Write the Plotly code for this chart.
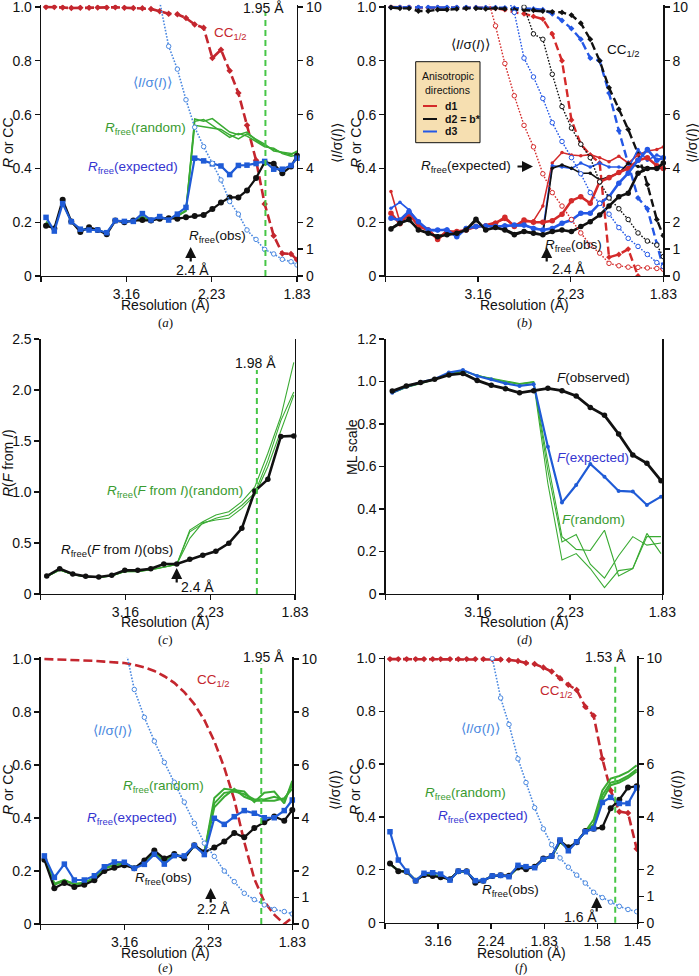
import plotly.graph_objects as go

W, H = 699, 976
FONT = "Liberation Sans, Arial, sans-serif"
SERIF = "Liberation Serif, Times New Roman, serif"

RED = "#c4262e"
LBLUE = "#4a88e0"
BLUE = "#1f5bd6"
BLUE_TXT = "#3535d0"
GREEN = "#3aab33"
GREEN_TXT = "#3a9b30"
VGREEN = "#46c646"
BLACK = "#111111"
BRED = "#d42a2a"
BBLUE = "#2458e6"

# ---------------- data ----------------
# x positions are 1/d^2 (A^-2); tick labels give resolution in A
tick_s2_abcde = [0, 0.1, 0.2, 0.3]
tick_lab_abcd = ["", "3.16", "2.23", "1.83"]
tick_s2_f = [0, 0.1, 0.2, 0.3, 0.4, 0.4756]
tick_lab_f = ["", "3.16", "2.24", "1.83", "1.58", "1.45"]

s2_ab = [0.0059, 0.0156, 0.0254, 0.0355, 0.0461, 0.0563, 0.0664, 0.0770, 0.0871, 0.0977,
         0.1082, 0.1188, 0.1289, 0.1391, 0.1496, 0.1598, 0.1699, 0.1801, 0.1906, 0.2008,
         0.2109, 0.2211, 0.2313, 0.2414, 0.2520, 0.2621, 0.2727, 0.2828, 0.2930, 0.3000]

# panel (a)
a_obs = [0.187, 0.177, 0.283, 0.203, 0.164, 0.181, 0.171, 0.155, 0.206, 0.200, 0.206, 0.208, 0.206, 0.213, 0.215,
         0.213, 0.218, 0.223, 0.227, 0.249, 0.273, 0.292, 0.292, 0.318, 0.364, 0.423, 0.417, 0.382, 0.407, 0.447]
a_exp = [0.218, 0.167, 0.269, 0.202, 0.174, 0.171, 0.171, 0.161, 0.206, 0.203, 0.203, 0.232, 0.208, 0.221, 0.208,
         0.230, 0.255, 0.438, 0.428, 0.417, 0.409, 0.377, 0.411, 0.412, 0.418, 0.426, 0.397, 0.397, 0.411, 0.438]
a_rand1 = [0.200, 0.176, 0.276, 0.201, 0.170, 0.176, 0.171, 0.158, 0.206, 0.202, 0.205, 0.221, 0.207, 0.218, 0.211,
           0.222, 0.243, 0.584, 0.575, 0.585, 0.560, 0.535, 0.525, 0.535, 0.505, 0.485, 0.470, 0.458, 0.450, 0.465]
a_rand2 = [0.198, 0.174, 0.274, 0.203, 0.172, 0.175, 0.172, 0.160, 0.205, 0.203, 0.204, 0.219, 0.208, 0.216, 0.212,
           0.224, 0.245, 0.575, 0.582, 0.560, 0.540, 0.515, 0.530, 0.520, 0.500, 0.480, 0.475, 0.455, 0.445, 0.450]
a_rand3 = [0.202, 0.175, 0.272, 0.200, 0.171, 0.177, 0.170, 0.159, 0.207, 0.201, 0.206, 0.220, 0.206, 0.217, 0.213,
           0.223, 0.241, 0.560, 0.555, 0.550, 0.545, 0.525, 0.510, 0.528, 0.508, 0.490, 0.465, 0.460, 0.455, 0.460]
a_cc = [1.0, 1.0, 0.998, 0.996, 0.997, 0.997, 0.998, 0.998, 0.999, 0.997, 0.996, 0.995, 0.993, 0.984, 0.975,
        0.973, 0.959, 0.935, 0.923, 0.810, 0.841, 0.763, 0.680, 0.560, 0.430, 0.268, 0.150, 0.084, 0.082, 0.060]
a_isig = [None] * 13 + [10.2, 8.54, 7.69, 6.55, 5.53, 4.81, 4.19, 3.57, 2.77, 2.30, 1.71, 1.36, 0.99, 0.82,
                        0.62, 0.53, 0.41]

# panel (b): d1 red, d2 black (= b*), d3 blue
b_d1_obs = [0.233, 0.194, 0.233, 0.184, 0.171, 0.136, 0.165, 0.165, 0.171, 0.184, 0.186, 0.196, 0.218, 0.184, 0.208,
            0.200, 0.200, 0.205, 0.230, 0.280, 0.295, 0.270, 0.350, 0.365, 0.385, 0.400, 0.430, 0.440, 0.410, 0.400]
b_d1_exp = [0.314, 0.200, 0.225, 0.190, 0.175, 0.140, 0.170, 0.160, 0.175, 0.180, 0.190, 0.200, 0.210, 0.190, 0.200,
            0.205, 0.260, 0.420, 0.459, 0.450, 0.447, 0.451, 0.440, 0.425, 0.445, 0.420, 0.450, 0.465, 0.470, 0.480]
b_d2_obs = [0.175, 0.196, 0.211, 0.171, 0.159, 0.146, 0.153, 0.159, 0.171, 0.211, 0.171, 0.180, 0.171, 0.153, 0.165,
            0.159, 0.153, 0.165, 0.171, 0.165, 0.184, 0.202, 0.227, 0.260, 0.295, 0.308, 0.382, 0.400, 0.400, 0.420]
b_d2_exp = [0.178, 0.200, 0.205, 0.175, 0.160, 0.150, 0.155, 0.160, 0.170, 0.205, 0.175, 0.178, 0.175, 0.158, 0.168,
            0.160, 0.155, 0.401, 0.413, 0.401, 0.382, 0.382, 0.357, 0.370, 0.382, 0.419, 0.407, 0.401, 0.400, 0.400]
b_d3_obs = [0.215, 0.208, 0.240, 0.202, 0.171, 0.171, 0.171, 0.146, 0.177, 0.184, 0.186, 0.184, 0.186, 0.190, 0.190,
            0.177, 0.171, 0.177, 0.196, 0.208, 0.233, 0.233, 0.270, 0.295, 0.345, 0.382, 0.430, 0.470, 0.430, 0.440]
b_d3_exp = [0.252, 0.274, 0.246, 0.200, 0.168, 0.168, 0.175, 0.150, 0.180, 0.180, 0.190, 0.180, 0.190, 0.186, 0.186,
            0.180, 0.170, 0.410, 0.405, 0.400, 0.420, 0.405, 0.420, 0.405, 0.405, 0.400, 0.470, 0.430, 0.450, 0.440]
b_d1_cc = [1.0, 1.0, 1.0, 0.998, 0.997, 0.998, 0.997, 0.998, 0.997, 0.998, 0.997, 0.995, 0.990, 0.980, 0.975,
           0.965, 0.955, 0.900, 0.800, 0.580, 0.490, 0.450, 0.420, 0.070, 0.080, 0.100, 0.000, None, None, None]
b_d2_cc = [0.998, 0.995, 0.995, 0.985, 0.985, 0.990, 0.990, 0.993, 0.995, 0.995, 0.993, 0.995, 0.993, 0.990, 0.990,
           0.988, 0.985, 0.982, 0.980, 0.970, 0.940, 0.880, 0.800, 0.700, 0.620, 0.545, 0.455, 0.340, 0.210, 0.150]
b_d3_cc = [0.999, 0.999, 0.999, 0.999, 0.999, 0.999, 0.999, 0.999, 0.999, 0.998, 0.998, 0.998, 0.997, 0.996, 0.995,
           0.993, 0.990, 0.975, 0.950, 0.920, 0.880, 0.810, 0.800, 0.680, 0.540, 0.420, 0.290, 0.250, 0.120, 0.030]
b_d1_isig = [None] * 10 + [10.6, 9.3, 7.9, 6.7, 5.6, 4.8, 3.8, 3.1, 2.6, 2.1, 1.6, 1.15, 0.85, 0.47, 0.38, 0.33,
                           0.32, 0.30, 0.28, 0.25]
b_d2_isig = [None] * 14 + [10.0, 9.0, 8.8, 7.5, 6.3, 5.5, 4.9, 4.4, 3.5, 2.9, 2.5, 2.1, 1.6, 1.3, 1.15, 0.72]
b_d3_isig = [None] * 12 + [10.5, 9.8, 8.1, 7.4, 6.6, 5.7, 5.0, 4.4, 3.8, 3.1, 2.7, 2.3, 1.8, 1.4, 1.1, 0.8, 0.5, 0.35]

# panels (c) and (d)
s2_cd = [0.0071, 0.0224, 0.0378, 0.0531, 0.0685, 0.0838, 0.0992, 0.1145, 0.1299, 0.1452,
         0.1605, 0.1759, 0.1912, 0.2066, 0.2219, 0.2373, 0.2526, 0.2680, 0.2833, 0.2986]
c_obs = [0.176, 0.248, 0.196, 0.173, 0.167, 0.183, 0.232, 0.232, 0.248, 0.294,
         0.294, 0.340, 0.379, 0.418, 0.497, 0.644, 1.010, 1.124, 1.545, 1.550]
c_rand1 = [0.170, 0.235, 0.190, 0.168, 0.162, 0.178, 0.220, 0.222, 0.240, 0.265,
           0.290, 0.627, 0.709, 0.775, 0.807, 0.905, 1.050, 1.380, 1.740, 2.270]
c_rand2 = [0.172, 0.238, 0.188, 0.170, 0.160, 0.176, 0.218, 0.220, 0.236, 0.260,
           0.290, 0.610, 0.690, 0.742, 0.775, 0.870, 0.990, 1.310, 1.700, 1.980]
c_rand3 = [0.168, 0.232, 0.192, 0.166, 0.164, 0.180, 0.222, 0.218, 0.238, 0.262,
           0.290, 0.546, 0.700, 0.725, 0.742, 0.840, 0.970, 1.250, 1.610, 1.950]
d_obs = [0.955, 0.979, 0.995, 1.010, 1.031, 1.038, 1.005, 0.982, 0.966, 0.947,
         0.957, 0.968, 0.957, 0.932, 0.878, 0.841, 0.753, 0.654, 0.615, 0.533]
d_exp = [0.947, 0.976, 0.996, 1.012, 1.042, 1.054, 1.026, 1.010, 0.991, 0.979,
         0.987, 0.693, 0.430, 0.513, 0.612, 0.552, 0.485, 0.482, 0.419, 0.458]
d_rand1 = [0.945, 0.972, 0.990, 1.008, 1.035, 1.048, 1.028, 1.015, 1.000, 0.990,
           1.000, 0.620, 0.270, 0.210, 0.205, 0.300, 0.085, 0.120, 0.285, 0.190]
d_rand2 = [0.948, 0.975, 0.993, 1.010, 1.038, 1.050, 1.030, 1.012, 0.998, 0.988,
           0.998, 0.580, 0.245, 0.280, 0.140, 0.075, 0.180, 0.270, 0.230, 0.240]
d_rand3 = [0.946, 0.973, 0.991, 1.009, 1.036, 1.049, 1.027, 1.013, 0.997, 0.986,
           0.995, 0.520, 0.160, 0.190, 0.120, 0.030, 0.110, 0.120, 0.270, 0.270]

# panel (e)
s2_e = [0.0044, 0.0163, 0.0282, 0.0401, 0.0520, 0.0640, 0.0759, 0.0878, 0.0997, 0.1116, 0.1236, 0.1355, 0.1474,
        0.1593, 0.1712, 0.1832, 0.1951, 0.2070, 0.2189, 0.2308, 0.2427, 0.2547, 0.2666, 0.2785, 0.2904, 0.3000]
e_obs = [0.242, 0.135, 0.155, 0.140, 0.148, 0.165, 0.200, 0.212, 0.222, 0.210, 0.240, 0.277, 0.247,
         0.264, 0.247, 0.297, 0.271, 0.289, 0.311, 0.343, 0.327, 0.362, 0.384, 0.406, 0.390, 0.430]
e_exp = [0.257, 0.176, 0.226, 0.166, 0.166, 0.182, 0.216, 0.234, 0.233, 0.210, 0.225, 0.263, 0.226,
         0.258, 0.257, 0.296, 0.262, 0.399, 0.376, 0.405, 0.428, 0.418, 0.401, 0.401, 0.428, 0.468]
e_rand1 = [0.250, 0.150, 0.165, 0.150, 0.155, 0.172, 0.210, 0.222, 0.228, 0.212, 0.232, 0.272, 0.237,
           0.262, 0.252, 0.296, 0.268, 0.475, 0.510, 0.505, 0.500, 0.460, 0.495, 0.500, 0.455, 0.540]
e_rand2 = [0.248, 0.148, 0.163, 0.152, 0.154, 0.170, 0.208, 0.224, 0.226, 0.213, 0.230, 0.270, 0.239,
           0.260, 0.254, 0.295, 0.266, 0.440, 0.480, 0.510, 0.480, 0.465, 0.465, 0.465, 0.475, 0.510]
e_rand3 = [0.252, 0.152, 0.167, 0.148, 0.156, 0.174, 0.212, 0.220, 0.230, 0.211, 0.234, 0.274, 0.235,
           0.264, 0.250, 0.297, 0.270, 0.455, 0.495, 0.500, 0.490, 0.470, 0.470, 0.480, 0.468, 0.525]
e_cc = [1.0, 0.999, 0.998, 0.997, 0.995, 0.993, 0.990, 0.988, 0.985, 0.978, 0.968, 0.955, 0.935,
        0.910, 0.875, 0.830, 0.770, 0.690, 0.590, 0.470, 0.310, 0.170, 0.085, 0.035, 0.000, 0.025]
e_isig = [None] * 8 + [10.6, 8.85, 7.8, 6.9, 6.1, 5.35, 4.6, 3.8, 3.05, 2.55, 2.0, 1.6, 1.16, 0.92,
                       0.72, 0.55, 0.47, 0.38]

# panel (f)
s2_f = [0.0094, 0.0251, 0.0408, 0.0578, 0.0735, 0.0899, 0.1049, 0.1225, 0.1382, 0.1539,
        0.1703, 0.1854, 0.2023, 0.2180, 0.2337, 0.2507, 0.2658, 0.2821, 0.2985, 0.3142,
        0.3299, 0.3456, 0.3613, 0.3776, 0.3933, 0.4097, 0.4254, 0.4417, 0.4581, 0.4744]
f_obs = [0.224, 0.195, 0.193, 0.159, 0.180, 0.177, 0.172, 0.164, 0.195, 0.195, 0.151, 0.159, 0.177, 0.179, 0.178,
         0.209, 0.202, 0.212, 0.243, 0.252, 0.310, 0.285, 0.304, 0.347, 0.355, 0.360, 0.433, 0.465, 0.511, 0.516]
f_exp = [0.344, 0.237, 0.195, 0.159, 0.187, 0.189, 0.184, 0.161, 0.195, 0.193, 0.159, 0.159, 0.177, 0.179, 0.174,
         0.217, 0.212, 0.208, 0.240, 0.252, 0.313, 0.272, 0.306, 0.344, 0.356, 0.455, 0.474, 0.451, 0.451, 0.510]
f_rand1 = [0.222, 0.197, 0.193, 0.160, 0.182, 0.180, 0.176, 0.163, 0.194, 0.194, 0.157, 0.160, 0.176, 0.178, 0.176,
           0.210, 0.205, 0.210, 0.240, 0.250, 0.305, 0.280, 0.305, 0.345, 0.390, 0.500, 0.545, 0.555, 0.570, 0.595]
f_rand2 = [0.222, 0.197, 0.193, 0.160, 0.182, 0.180, 0.176, 0.163, 0.194, 0.194, 0.157, 0.160, 0.176, 0.178, 0.176,
           0.210, 0.205, 0.210, 0.240, 0.250, 0.305, 0.280, 0.305, 0.345, 0.372, 0.482, 0.530, 0.538, 0.555, 0.580]
f_rand3 = [0.222, 0.197, 0.193, 0.160, 0.182, 0.180, 0.176, 0.163, 0.194, 0.194, 0.157, 0.160, 0.176, 0.178, 0.176,
           0.210, 0.205, 0.210, 0.240, 0.250, 0.305, 0.280, 0.305, 0.345, 0.360, 0.465, 0.520, 0.530, 0.548, 0.572]
f_cc = [0.997, 0.997, 0.997, 0.997, 0.997, 0.997, 0.997, 0.997, 0.997, 0.997, 0.997, 0.997, 0.996, 0.995, 0.994,
        0.990, 0.982, 0.978, 0.965, 0.950, 0.925, 0.900, 0.880, 0.817, 0.783, 0.620, 0.500, 0.420, 0.415, 0.280]
f_isig = [None] * 11 + [12.0, 10.0, 8.5, 7.5, 6.2, 5.3, 4.35, 3.55, 2.95, 2.45, 2.1, 1.8, 1.5, 1.15, 0.95,
                        0.78, 0.62, 0.5, 0.42]

# resolution cut-off markers (1/d^2)
cut_a = 0.263   # 1.95 A
cut_c = 0.255   # 1.98 A
cut_e = 0.263   # 1.95 A
cut_f = 0.434   # 1.53 A


# ---------------- helpers (page pixel -> paper) ----------------
def fx(p):
    return p / W


def fy(p):
    return 1 - p / H


fig = go.Figure()


def add(x, y, xa, ya, color, width, dash="solid", sym=None, msize=0, hollow=False, clip=True):
    mode = "lines+markers" if sym else "lines"
    marker = None
    if sym:
        marker = dict(symbol=sym, size=msize,
                      color="white" if hollow else color,
                      line=dict(color=color, width=1 if hollow else 0))
    fig.add_trace(go.Scatter(x=x, y=y, xaxis=xa, yaxis=ya, mode=mode,
                             line=dict(color=color, width=width, dash=dash),
                             marker=marker, cliponaxis=clip,
                             connectgaps=False, hoverinfo="skip", showlegend=False))


DOT = "1.6px,1.6px"
DASH = "9px,4px"

# ---- (a)
add(s2_ab, a_isig, "x", "y7", LBLUE, 1.6, DOT, "circle", 4.5, hollow=True)
add(s2_ab, a_cc, "x", "y", RED, 2.6, DASH, "diamond", 5)
for r in (a_rand1, a_rand2, a_rand3):
    add(s2_ab, r, "x", "y", GREEN, 1.5)
add(s2_ab, a_obs, "x", "y", BLACK, 2.2, sym="circle", msize=6, clip=False)
add(s2_ab, a_exp, "x", "y", BLUE, 2.2, sym="square", msize=5.5, clip=False)

# ---- (b)
add(s2_ab, b_d1_isig, "x2", "y8", BRED, 1.4, DOT, "circle", 4.5, hollow=True)
add(s2_ab, b_d3_isig, "x2", "y8", BBLUE, 1.4, DOT, "circle", 4.5, hollow=True)
add(s2_ab, b_d2_isig, "x2", "y8", BLACK, 1.4, DOT, "circle", 4.5, hollow=True)
add(s2_ab, b_d1_cc, "x2", "y2", BRED, 2.4, "8px,4px", "diamond", 4.5)
add(s2_ab, b_d3_cc, "x2", "y2", BBLUE, 2.4, "8px,4px", "diamond", 4.5)
add(s2_ab, b_d2_cc, "x2", "y2", BLACK, 2.4, "8px,4px", "diamond", 4.5)
add(s2_ab, b_d1_exp, "x2", "y2", BRED, 1.6, sym="circle", msize=3.5, clip=False)
add(s2_ab, b_d3_exp, "x2", "y2", BBLUE, 1.6, sym="circle", msize=3.5, clip=False)
add(s2_ab, b_d2_exp, "x2", "y2", BLACK, 1.6, sym="circle", msize=3.5, clip=False)
add(s2_ab, b_d1_obs, "x2", "y2", BRED, 2.6, sym="circle", msize=5.5, clip=False)
add(s2_ab, b_d3_obs, "x2", "y2", BBLUE, 2.6, sym="circle", msize=5.5, clip=False)
add(s2_ab, b_d2_obs, "x2", "y2", BLACK, 2.6, sym="circle", msize=5.5, clip=False)

# ---- (c)
for r in (c_rand1, c_rand2, c_rand3):
    add(s2_cd, r, "x3", "y3", GREEN, 1.1)
add(s2_cd, c_obs, "x3", "y3", BLACK, 2.6, sym="circle", msize=5.5, clip=False)

# ---- (d)
for r in (d_rand1, d_rand2, d_rand3):
    add(s2_cd, r, "x4", "y4", GREEN, 1.1)
add(s2_cd, d_exp, "x4", "y4", BLUE, 2.2, sym="circle", msize=4, clip=False)
add(s2_cd, d_obs, "x4", "y4", BLACK, 2.8, sym="circle", msize=5.5, clip=False)

# ---- (e)
add(s2_e, e_isig, "x5", "y9", LBLUE, 1.6, DOT, "circle", 4.5, hollow=True)
add(s2_e, e_cc, "x5", "y5", RED, 2.6, DASH)
for r in (e_rand1, e_rand2, e_rand3):
    add(s2_e, r, "x5", "y5", GREEN, 2.0)
add(s2_e, e_obs, "x5", "y5", BLACK, 2.2, sym="circle", msize=6, clip=False)
add(s2_e, e_exp, "x5", "y5", BLUE, 2.2, sym="square", msize=5.5, clip=False)

# ---- (f)
add(s2_f, f_isig, "x6", "y10", LBLUE, 1.6, DOT, "circle", 4.5, hollow=True)
add(s2_f, f_cc, "x6", "y6", RED, 2.6, DASH, "diamond", 5)
for r in (f_rand1, f_rand2, f_rand3):
    add(s2_f, r, "x6", "y6", GREEN, 2.0)
add(s2_f, f_obs, "x6", "y6", BLACK, 2.2, sym="circle", msize=6, clip=False)
add(s2_f, f_exp, "x6", "y6", BLUE, 2.2, sym="square", msize=5.5, clip=False)

# ---------------- axes ----------------
TF = dict(family=FONT, size=14, color=BLACK)
common = dict(showline=True, linecolor=BLACK, linewidth=1.3, ticks="outside", ticklen=5,
              tickwidth=1.3, tickcolor=BLACK, showgrid=False, zeroline=False, tickfont=TF,
              automargin=False, ticklabeloverflow="allow")

# pixel boxes on the page (left, right, top-of-value, bottom)
boxes = {
    1: (41, 297, 7, 276),
    2: (385.5, 663.3, 7, 276),
    3: (40.7, 295, 339, 594),
    4: (385.7, 662.3, 339, 594),
    5: (40.7, 292.3, 659, 924),
    6: (385, 637.3, 658.3, 922.7),
}
yinfo = {
    1: (1.0, [0, 0.2, 0.4, 0.6, 0.8, 1.0], ["0", "0.2", "0.4", "0.6", "0.8", "1.0"]),
    2: (1.0, [0, 0.2, 0.4, 0.6, 0.8, 1.0], ["0", "0.2", "0.4", "0.6", "0.8", "1.0"]),
    3: (2.5, [0, 0.5, 1.0, 1.5, 2.0, 2.5], ["0", "0.5", "1.0", "1.5", "2.0", "2.5"]),
    4: (1.2, [0, 0.2, 0.4, 0.6, 0.8, 1.0, 1.2], ["0", "0.2", "0.4", "0.6", "0.8", "1.0", "1.2"]),
    5: (1.0, [0, 0.2, 0.4, 0.6, 0.8, 1.0], ["0", "0.2", "0.4", "0.6", "0.8", "1.0"]),
    6: (1.0, [0, 0.2, 0.4, 0.6, 0.8, 1.0], ["0", "0.2", "0.4", "0.6", "0.8", "1.0"]),
}
EXT = 0.008
layout_axes = {}
for i in range(1, 7):
    l, r, t, b = boxes[i]
    ymax, tv, tt = yinfo[i]
    extend = i in (1, 2, 5, 6)
    top_val = ymax * (1 + EXT) if extend else ymax
    top_px = b - (b - t) * top_val / ymax
    xs = "" if i == 1 else str(i)
    if i == 6:
        xt, xl, xr = tick_s2_f, tick_lab_f, [0, 0.4756]
    else:
        xt, xl, xr = tick_s2_abcde, tick_lab_abcd, [0, 0.3]
    layout_axes["xaxis" + xs] = dict(domain=[fx(l), fx(r)], anchor="y" + xs, range=xr,
                                     tickvals=xt, ticktext=xl, **common)
    layout_axes["yaxis" + xs] = dict(domain=[fy(b), min(1.0, fy(top_px))], anchor="x" + xs, range=[0, top_val],
                                     tickvals=tv, ticktext=tt, mirror=(i in (3, 4)), **common)

right_map = {7: 1, 8: 2, 9: 5, 10: 6}
for k, i in right_map.items():
    xs = "" if i == 1 else str(i)
    layout_axes["yaxis%d" % k] = dict(overlaying="y" + xs, side="right", anchor="x" + xs,
                                      range=[0, 10 * (1 + EXT)], tickvals=[0, 1, 2, 4, 6, 8, 10],
                                      ticktext=["0", "1", "2", "4", "6", "8", "10"], **common)

# ---------------- annotations ----------------
anns = []


def txt(text, x, y, color=BLACK, size=13.5, xanchor="center", yanchor="middle", angle=0, family=FONT):
    anns.append(dict(text=text, x=fx(x), y=fy(y), xref="paper", yref="paper", showarrow=False,
                     xanchor=xanchor, yanchor=yanchor, textangle=angle,
                     font=dict(family=family, size=size, color=color)))


def arrow(x_tip, y_tip, ax, ay):
    anns.append(dict(text="", x=fx(x_tip), y=fy(y_tip), xref="paper", yref="paper", showarrow=True,
                     ax=ax, ay=ay, arrowhead=2, arrowsize=1.0, arrowwidth=2.2, arrowcolor=BLACK))


RF = "<i>R</i><sub>free</sub>"
ISIG = "\u27e8<i>I</i>/\u03c3(<i>I</i>)\u27e9"
CC = "CC<sub>1/2</sub>"

# titles per panel: (x-title centre, x-title y, panel letter y, letter, y-title x, y-title y, y-title)
for (cx, ty, ly, lab, yt_x, yt_y, ytitle) in [
    (165, 305, 322, "(<i>a</i>)", 8, 143, "<i>R</i> or CC"),
    (524, 305, 322, "(<i>b</i>)", 356, 143, "<i>R</i> or CC"),
    (165, 622, 639, "(<i>c</i>)", 8, 463, "<i>R</i>(<i>F</i> from <i>I</i>)"),
    (524, 622, 639, "(<i>d</i>)", 352, 447, "ML scale"),
    (165, 953, 967, "(<i>e</i>)", 8, 790, "<i>R</i> or CC"),
    (521, 953, 967, "(<i>f</i>)", 355, 790, "<i>R</i> or CC"),
]:
    txt("Resolution (\u00c5)", cx, ty, size=14)
    txt(lab, cx, ly, size=13, family=SERIF)
    txt(ytitle, yt_x, yt_y, size=14, angle=-90)

for (x, y) in [(337, 143), (692, 143), (335, 790), (677, 790)]:
    txt(ISIG, x, y, size=14, angle=-90)

# (a)
txt("1.95 \u00c5", 263, 8, size=14)
txt(CC, 230, 33, RED)
txt(ISIG, 152, 83, LBLUE)
txt(RF + "(random)", 188, 128, GREEN_TXT, xanchor="right")
txt(RF + "(expected)", 180, 168, BLUE_TXT, xanchor="right")
txt(RF + "(obs)", 217, 236)
arrow(190.7, 247, 0, 16)
txt("2.4 \u00c5", 192, 270, size=14)

# (b)
txt(ISIG, 470, 45)
txt(CC, 623, 50)
txt(RF + "(expected)", 513, 166, xanchor="right")
arrow(533, 166.5, -17, 0)
txt(RF + "(obs)", 573, 245)
arrow(546.7, 247, 0, 16)
txt("2.4 \u00c5", 568, 269, size=14)
txt("Anisotropic", 447.8, 76.5, size=10.5)
txt("directions", 447.8, 89.5, size=10.5)
txt("<b>d1</b>", 443, 106, size=10.5, xanchor="left")
txt("<b>d2 = b*</b>", 443, 119, size=10.5, xanchor="left")
txt("<b>d3</b>", 443, 131.5, size=10.5, xanchor="left")

# (c)
txt("1.98 \u00c5", 255, 362.7, size=14)
txt(RF + "(<i>F</i> from <i>I</i>)(random)", 175, 492, GREEN_TXT)
txt(RF + "(<i>F</i> from <i>I</i>)(obs)", 117, 550)
arrow(176.7, 568, 0, 16)
txt("2.4 \u00c5", 197, 587, size=14)

# (d)
txt("<i>F</i>(observed)", 593, 377)
txt("<i>F</i>(expected)", 593, 457, BLUE_TXT)
txt("<i>F</i>(random)", 593, 519, GREEN_TXT)

# (e)
txt("1.95 \u00c5", 263.3, 656.7, size=14)
txt(CC, 213, 680, RED)
txt(ISIG, 112, 730, LBLUE)
txt(RF + "(random)", 163.3, 786.7, GREEN_TXT)
txt(RF + "(expected)", 131.7, 818.3, BLUE_TXT)
txt(RF + "(obs)", 163.3, 878.3)
arrow(210.7, 888, 0, 16)
txt("2.2 \u00c5", 213.3, 909, size=14)

# (f)
txt("1.53 \u00c5", 605, 656.7, size=14)
txt(CC, 556.7, 691.7, RED)
txt(ISIG, 480, 728.3, LBLUE)
txt(RF + "(random)", 465, 793.3, GREEN_TXT)
txt(RF + "(expected)", 483.3, 816.7, BLUE_TXT)
txt(RF + "(obs)", 510, 890)
arrow(596.7, 897, 0, 16)
txt("1.6 \u00c5", 580, 917, size=14)

# ---------------- shapes ----------------
shapes = []
for xa, ya, xv, top in [("x", "y", cut_a, 0.975), ("x3", "y3", cut_c, 0.878),
                        ("x5", "y5", cut_e, 0.975), ("x6", "y6", cut_f, 0.972)]:
    shapes.append(dict(type="line", xref=xa, yref=ya + " domain", x0=xv, x1=xv, y0=0, y1=top,
                       line=dict(color=VGREEN, width=2, dash="6px,4px")))
# legend box in (b)
shapes.append(dict(type="rect", xref="paper", yref="paper", x0=fx(415.7), x1=fx(480), y0=fy(142.7), y1=fy(61.7),
                   fillcolor="#f6dfb1", line=dict(color=BLACK, width=1)))
for yy, col in [(106, BRED), (119, BLACK), (131.5, BBLUE)]:
    shapes.append(dict(type="line", xref="paper", yref="paper", x0=fx(423), x1=fx(437), y0=fy(yy), y1=fy(yy),
                       line=dict(color=col, width=2)))

fig.update_layout(width=W, height=H, margin=dict(l=0, r=0, t=0, b=0, autoexpand=False), paper_bgcolor="white",
                  plot_bgcolor="white", showlegend=False, annotations=anns, shapes=shapes,
                  font=dict(family=FONT, color=BLACK), hovermode=False)

fig.update_layout(**layout_axes)

# remove the default 8px page margin so the figure fills the 699x976 window exactly
fig.write_html("out.html", config={"displayModeBar": False, "staticPlot": True},
               post_script="document.body.style.margin='0px';document.body.style.overflow='hidden';")
